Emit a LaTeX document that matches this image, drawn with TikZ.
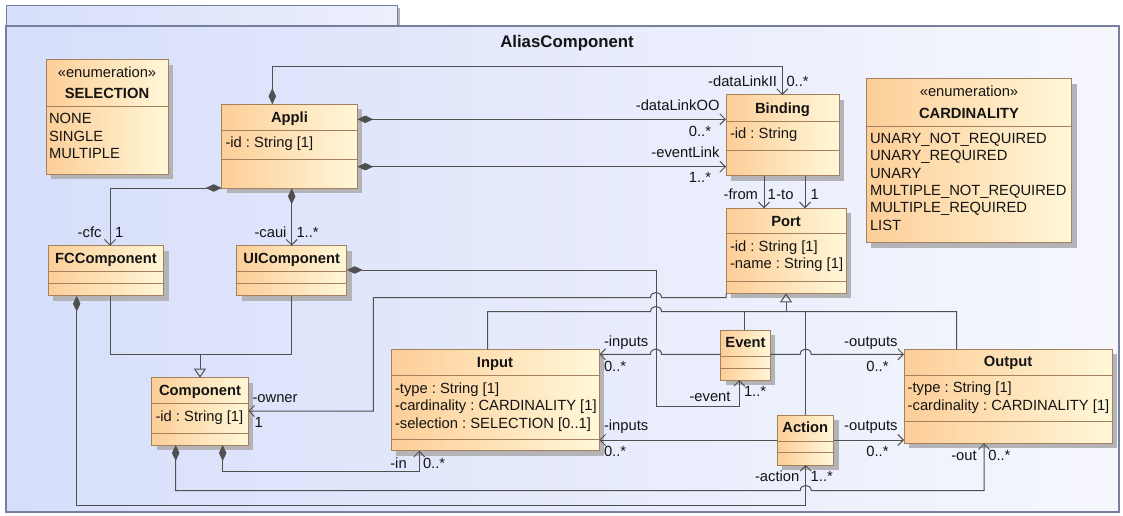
\documentclass[tikz,border=0pt]{standalone}
\usepackage{fontspec}
\setmainfont{Liberation Sans}
\usetikzlibrary{arrows.meta}
\frenchspacing
\definecolor{boxL}{RGB}{253,206,152}
\definecolor{boxR}{RGB}{255,247,216}
\definecolor{boxB}{RGB}{164,128,92}
\definecolor{shd}{RGB}{180,180,184}
\definecolor{lineC}{RGB}{80,80,80}
\definecolor{frameL}{RGB}{214,222,250}
\definecolor{frameR}{RGB}{246,247,253}
\definecolor{frameB}{RGB}{118,128,158}
\definecolor{txt}{RGB}{20,20,20}
\newcommand\umlfs{\fontsize{14.75}{17.4}\selectfont}
\newcommand\umlbox[5]{%
  \fill[shd] (#2+5,#3+5) rectangle (#4+5,#5+5);
  \node[box, minimum width=#4-#2, minimum height=#5-#3] (#1) at (#2,#3) {};}
\newcommand\umlsep[2]{\draw[sepl] (#1.west |- 0,#2) -- (#1.east |- 0,#2);}
\begin{document}
\begin{tikzpicture}[x=1pt,y=-1pt,
  box/.style={draw=boxB, line width=1pt, left color=boxL, right color=boxR, inner sep=0pt, outer sep=0pt, anchor=north west},
  sepl/.style={draw=boxB, line width=1pt},
  conn/.style={draw=lineC, line width=1pt},
  comp/.style={conn, {Diamond[length=16pt,width=7.5pt]}-{Straight Barb[length=5.5pt,width=11pt]}},
  nav/.style={conn, -{Straight Barb[length=5.5pt,width=11pt]}},
  gen/.style={conn, -{Triangle[open,length=9pt,width=12pt]}},
  lab/.style={inner sep=0pt, outer sep=0pt, font=\umlfs, text=txt},
  ttl/.style={lab, font=\umlfs\bfseries, anchor=base},
]
\useasboundingbox (0,0) rectangle (1123,516);
\fill[white] (0,0) rectangle (1123,516);
% package frame
\fill[shd] (397,8) rectangle (400,26);
\draw[draw=frameB, line width=1pt, left color=frameL, right color=frameR!70!frameL] (6,6) rectangle (397,26);
\draw[draw=frameB, line width=1.4pt, left color=frameL, right color=frameR] (6,26) rectangle (1119,512);
\node[ttl, font=\fontsize{16.8}{19}\selectfont\bfseries] (frametitle) at (567,48) {AliasComponent};

% classes
\umlbox{selection}{46}{60}{168}{174}
\umlsep{selection}{107}
\node[lab, anchor=base] (selst) at (107,78) {«enumeration»};
\node[ttl] (selt) at (107,99) {SELECTION};
\node[lab, anchor=base west] (sel1) at (49,124) {NONE};
\node[lab, anchor=base west] (sel2) at (49,141.4) {SINGLE};
\node[lab, anchor=base west] (sel3) at (49,158.8) {MULTIPLE};

\umlbox{appli}{221.7}{104.3}{357.3}{188.3}
\umlsep{appli}{130.3}\umlsep{appli}{159.3}
\node[ttl] (applit) at (289.5,122.7) {Appli};
\node[lab, anchor=base west] (appli1) at (225.5,147.3) {-id : String [1]};

\umlbox{binding}{726}{95}{839}{175.7}
\umlsep{binding}{121}\umlsep{binding}{150}
\node[ttl] (bindingt) at (782.5,113.3) {Binding};
\node[lab, anchor=base west] (binding1) at (730,138.3) {-id : String};

\umlbox{port}{726}{208.3}{846}{293.3}
\umlsep{port}{233.7}\umlsep{port}{281}
\node[ttl] (portt) at (786,226.3) {Port};
\node[lab, anchor=base west] (port1) at (730,251.5) {-id : String [1]};
\node[lab, anchor=base west] (port2) at (730,268.9) {-name : String [1]};

\umlbox{card}{866}{79}{1071.7}{242.7}
\umlsep{card}{126}
\node[lab, anchor=base] (cardst) at (969,96) {«enumeration»};
\node[ttl] (cardt) at (969,118) {CARDINALITY};
\node[lab, anchor=base west] (card1) at (870,143.3) {UNARY\_NOT\_REQUIRED};
\node[lab, anchor=base west] (card2) at (870,160.7) {UNARY\_REQUIRED};
\node[lab, anchor=base west] (card3) at (870,178.1) {UNARY};
\node[lab, anchor=base west] (card4) at (870,195.5) {MULTIPLE\_NOT\_REQUIRED};
\node[lab, anchor=base west] (card5) at (870,212.9) {MULTIPLE\_REQUIRED};
\node[lab, anchor=base west] (card6) at (870,230.3) {LIST};

\umlbox{fcc}{48.3}{245.7}{163.7}{295.7}
\umlsep{fcc}{271}\umlsep{fcc}{283.3}
\node[ttl] (fcct) at (106,263.7) {FCComponent};

\umlbox{uic}{236.7}{245.7}{346.7}{295.7}
\umlsep{uic}{271}\umlsep{uic}{283.3}
\node[ttl] (uict) at (291.7,263.7) {UIComponent};

\umlbox{component}{151.7}{377.7}{248.3}{445}
\umlsep{component}{403.3}\umlsep{component}{433.3}
\node[ttl] (componentt) at (200,395) {Component};
\node[lab, anchor=base west] (component1) at (155.5,421) {-id : String [1]};

\umlbox{input}{391}{349.3}{599.3}{450.7}
\umlsep{input}{375}\umlsep{input}{439.3}
\node[ttl] (inputt) at (495,367.3) {Input};
\node[lab, anchor=base west] (input1) at (395,393.3) {-type : String [1]};
\node[lab, anchor=base west] (input2) at (395,410.7) {-cardinality : CARDINALITY [1]};
\node[lab, anchor=base west] (input3) at (395,428.1) {-selection : SELECTION [0..1]};

\umlbox{event}{720.7}{330.3}{770.3}{380}
\umlsep{event}{356.7}\umlsep{event}{368}
\node[ttl] (eventt) at (745.5,347.7) {Event};

\umlbox{action}{777}{415}{833.7}{465}
\umlsep{action}{441}\umlsep{action}{452.7}
\node[ttl] (actiont) at (805.3,432.7) {Action};

\umlbox{output}{904}{349.3}{1112.3}{443.3}
\umlsep{output}{375}\umlsep{output}{421.7}
\node[ttl] (outputt) at (1008,366.7) {Output};
\node[lab, anchor=base west] (output1) at (907.7,392.7) {-type : String [1]};
\node[lab, anchor=base west] (output2) at (907.7,410.1) {-cardinality : CARDINALITY [1]};

% connectors
\draw[comp] (appli.north -| 272.3,0) -- (272.3,66.7) -- (782.3,66.7) -- (binding.north -| 782.3,0);
\node[lab, anchor=base east] (l1) at (777,86.7) {-dataLinkII};
\node[lab, anchor=base west] (m1) at (786.5,86.7) {0..*};

\draw[comp] (appli.east |- 0,119.3) -- (binding.west |- 0,119.3);
\node[lab, anchor=base east] (l2) at (719.5,110.7) {-dataLinkOO};
\node[lab, anchor=base east] (m2) at (711,136) {0..*};

\draw[comp] (appli.east |- 0,166.7) -- (binding.west |- 0,166.7);
\node[lab, anchor=base east] (l3) at (719.5,157.7) {-eventLink};
\node[lab, anchor=base east] (m3) at (711,182.7) {1..*};

\draw[nav] (binding.south -| 764,0) -- (port.north -| 764,0);
\node[lab, anchor=base east] (l4) at (758,199.3) {-from};
\node[lab, anchor=base west] (m4) at (767.5,199.3) {1};
\draw[nav] (binding.south -| 805,0) -- (port.north -| 805,0);
\node[lab, anchor=base east] (l5) at (793.5,199.3) {-to};
\node[lab, anchor=base west] (m5) at (810.5,199.3) {1};

\draw[comp] (appli.west |- 0,188) -- (110,188) -- (fcc.north -| 110,0);
\node[lab, anchor=base east] (l6) at (101.5,237.3) {-cfc};
\node[lab, anchor=base west] (m6) at (115,237.3) {1};

\draw[comp] (appli.south -| 291.7,0) -- (uic.north -| 291.7,0);
\node[lab, anchor=base east] (l7) at (286.5,237.3) {-caui};
\node[lab, anchor=base west] (m7) at (296.5,237.3) {1..*};

\draw[conn] (fcc.south -| 110,0) -- (110,354) -- (291.7,354) -- (uic.south -| 291.7,0);
\coordinate (gbus1) at (200,354);
\draw[gen] (gbus1) -- (component.north);

\draw[comp] (uic.east |- 0,270) -- (656,270) -- (656,406) -- (739.3,406) -- (event.south -| 739.3,0);
\node[lab, anchor=base east] (l8) at (730.5,401.7) {-event};
\node[lab, anchor=base west] (m8) at (744,396.7) {1..*};

\draw[nav] (port.south west) -- (726,297.7) -- (661.5,297.7) .. controls (661.5,290.7) and (650.5,290.7) .. (650.5,297.7) -- (373.3,297.7) -- (373.3,411) -- (component.east |- 0,411);
\node[lab, anchor=base west] (l9) at (252.5,402.7) {-owner};
\node[lab, anchor=base west] (m9) at (254.5,427.7) {1};

\coordinate (gbus2) at (786,311.7);
\draw[conn] (input.north -| 487.7,0) -- (487.7,311.7) -- (650.5,311.7) .. controls (650.5,304.7) and (661.5,304.7) .. (661.5,311.7) -- (956.7,311.7) -- (output.north -| 956.7,0);
\draw[conn] (event.north -| 744.3,0) -- (744.3,311.7);
\draw[conn] (action.north -| 805.7,0) -- (805.7,311.7);
\draw[gen] (gbus2) -- (port.south);

\draw[nav] (event.west |- 0,354.3) -- (661.5,354.3) .. controls (661.5,347.3) and (650.5,347.3) .. (650.5,354.3) -- (input.east |- 0,354.3);
\node[lab, anchor=base west] (l10) at (604,346.7) {-inputs};
\node[lab, anchor=base west] (m10) at (604,371.7) {0..*};

\draw[nav] (event.east |- 0,354.3) -- (800.2,354.3) .. controls (800.2,347.3) and (811.2,347.3) .. (811.2,354.3) -- (output.west |- 0,354.3);
\node[lab, anchor=base east] (l11) at (897.5,346.3) {-outputs};
\node[lab, anchor=base east] (m11) at (888.5,371.7) {0..*};

\draw[nav] (action.west |- 0,440) -- (input.east |- 0,440);
\node[lab, anchor=base west] (l12) at (604,430.7) {-inputs};
\node[lab, anchor=base west] (m12) at (604,456) {0..*};

\draw[nav] (action.east |- 0,440) -- (output.west |- 0,440);
\node[lab, anchor=base east] (l13) at (897.5,430.7) {-outputs};
\node[lab, anchor=base east] (m13) at (888.5,456) {0..*};

\draw[comp] (component.south -| 222.7,0) -- (222.7,471.7) -- (419.3,471.7) -- (input.south -| 419.3,0);
\node[lab, anchor=base east] (l14) at (406.7,468.5) {-in};
\node[lab, anchor=base west] (m14) at (423,468.5) {0..*};

\draw[comp] (component.south -| 175.7,0) -- (175.7,490.7) -- (800.2,490.7) .. controls (800.2,483.7) and (811.2,483.7) .. (811.2,490.7) -- (984,490.7) -- (output.south -| 984,0);
\node[lab, anchor=base east] (l15) at (976.7,460.7) {-out};
\node[lab, anchor=base west] (m15) at (988.3,460.7) {0..*};

\draw[comp] (fcc.south -| 76.7,0) -- (76.7,505.7) -- (805.7,505.7) -- (action.south -| 805.7,0);
\node[lab, anchor=base east] (l16) at (799.3,481.7) {-action};
\node[lab, anchor=base west] (m16) at (810.7,481.7) {1..*};
\end{tikzpicture}
\end{document}
